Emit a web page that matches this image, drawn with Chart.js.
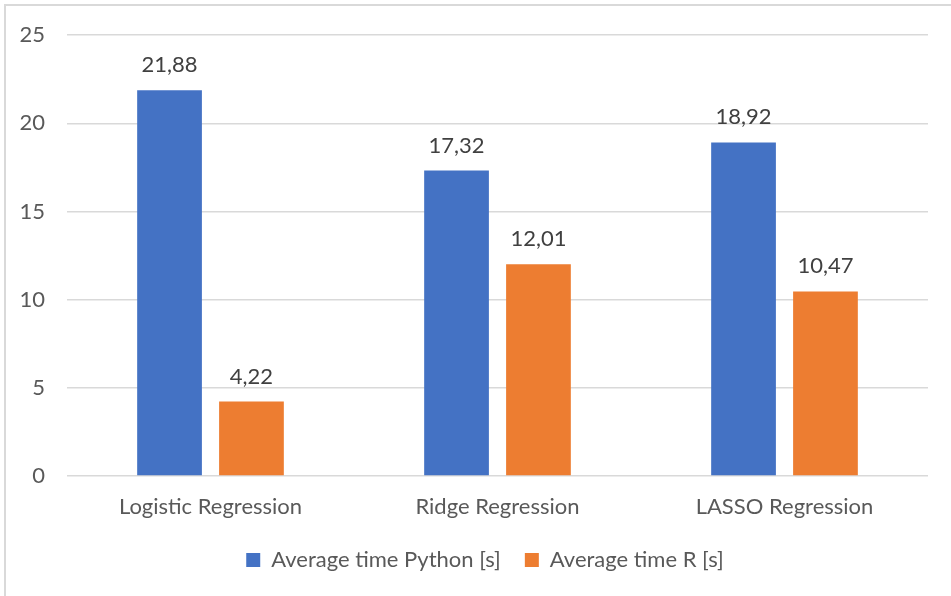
<!DOCTYPE html>
<html>
<head>
<meta charset="utf-8">
<script src="https://cdn.jsdelivr.net/npm/chart.js@4.4.0/dist/chart.umd.min.js"></script>
<style>
  html, body { margin: 0; padding: 0; background: #fff; }
  #wrap { position: relative; width: 951px; height: 596px; overflow: hidden; }
  #frame { position: absolute; left: 4px; top: 4px; width: 1000px; height: 700px;
           border-left: 2px solid #d9d9d9; border-top: 2px solid #d9d9d9; }
  #myChart { position: absolute; left: 0; top: 0; }
</style>
</head>
<body>
<div id="wrap">
  <div id="frame"></div>
  <canvas id="myChart" width="951" height="596"></canvas>
</div>
<script>
// data
var categories = ["Logistic Regression", "Ridge Regression", "LASSO Regression"];
var pythonTimes = [21.88, 17.32, 18.92];
var rTimes = [4.22, 12.01, 10.47];
var seriesNames = ["Average time Python [s]", "Average time R [s]"];
var yTicks = [0, 5, 10, 15, 20, 25];

var fontFam = "Lato, 'Open Sans', sans-serif";

// value labels above bars, with comma decimals
var valueLabels = {
    id: 'valueLabels',
    afterDatasetsDraw: function(chart){
        var ctx = chart.ctx;
        ctx.save();
        ctx.font = "22px " + fontFam;
        ctx.fillStyle = "#404040";
        ctx.textAlign = "center";
        ctx.textBaseline = "bottom";
        chart.data.datasets.forEach(function(ds, i){
            var meta = chart.getDatasetMeta(i);
            meta.data.forEach(function(bar, j){
                var txt = ds.data[j].toFixed(2).replace('.', ',');
                ctx.fillText(txt, bar.x, bar.y - 14);
            });
        });
        ctx.restore();
    }
};

var ctx = document.getElementById('myChart').getContext('2d');
var myChart = new Chart(ctx, {
    type: 'bar',
    data: {
        labels: categories,
        datasets: [
            {
                label: seriesNames[0],
                data: pythonTimes,
                backgroundColor: '#4472C4',
                categoryPercentage: 0.571,
                barPercentage: 0.79
            },
            {
                label: seriesNames[1],
                data: rTimes,
                backgroundColor: '#ED7D31',
                categoryPercentage: 0.571,
                barPercentage: 0.79
            }
        ]
    },
    options: {
        responsive: false,
        animation: false,
        layout: { padding: { left: 42, right: 23, top: 34, bottom: 15 } },
        scales: {
            x: {
                grid: { display: false },
                border: { display: false },
                ticks: { color: '#595959', font: { family: fontFam, size: 22 }, padding: 10 },
                afterFit: function(axis){ axis.height = 49; }
            },
            y: {
                min: 0,
                max: 25,
                afterBuildTicks: function(axis){ axis.ticks = yTicks.map(function(v){ return { value: v }; }); },
                grid: { color: '#d9d9d9', lineWidth: 1.5, drawTicks: false },
                border: { display: false },
                ticks: { color: '#595959', font: { family: fontFam, size: 22 }, padding: 22 },
                afterFit: function(axis){
                    axis.width = 25;
                    // labels sit left of the narrow axis box, don't clip them
                    axis._computeLabelArea = function(){ return undefined; };
                }
            }
        },
        plugins: {
            legend: {
                position: 'bottom',
                labels: {
                    color: '#595959',
                    font: { family: fontFam, size: 22 },
                    boxWidth: 14,
                    boxHeight: 14,
                    padding: 24
                }
            },
            tooltip: { enabled: false }
        }
    },
    plugins: [valueLabels]
});
</script>
</body>
</html>
